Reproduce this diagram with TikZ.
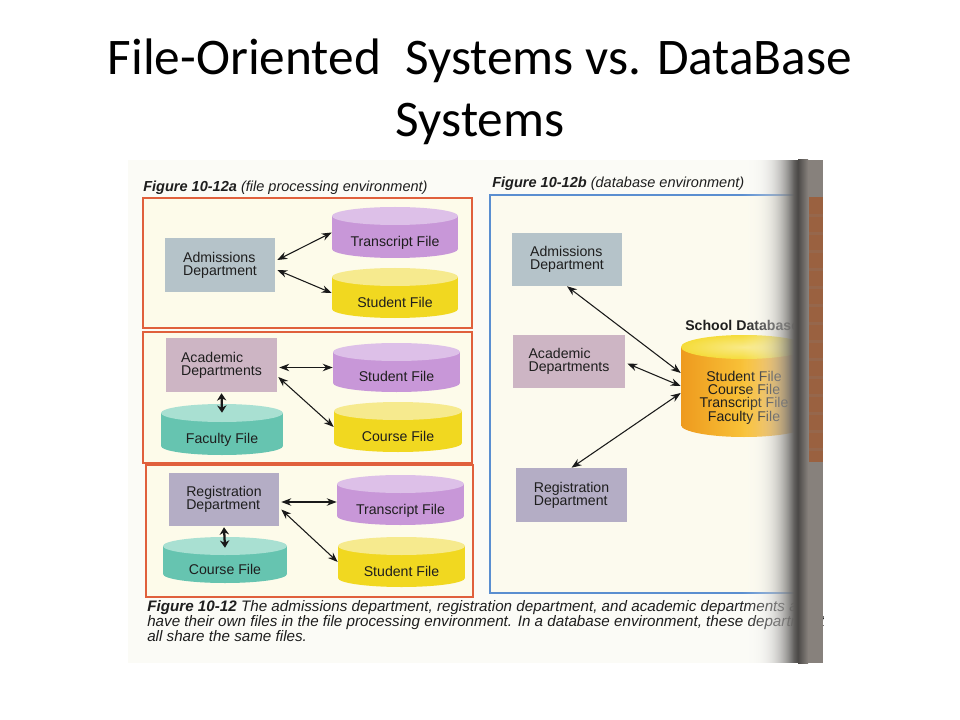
\documentclass[tikz,border=0pt]{standalone}
\usepackage{fontspec}
\setmainfont{Liberation Sans}
\newfontfamily\titlefont{Carlito}
\usetikzlibrary{arrows.meta,calc}
\definecolor{panelred}{HTML}{E0603C}
\definecolor{panelfill}{HTML}{FDFBEA}
\definecolor{rblue}{HTML}{5A8ED0}
\definecolor{rfill}{HTML}{FCFAEE}
\definecolor{photobg}{HTML}{FBFBF6}
\definecolor{admc}{HTML}{B5C3C9}
\definecolor{acac}{HTML}{CDB5C4}
\definecolor{regc}{HTML}{B4ADC5}
\definecolor{purb}{HTML}{C897D8}
\definecolor{purt}{HTML}{DDC0E8}
\definecolor{yelb}{HTML}{F1D820}
\definecolor{yelt}{HTML}{F6EA8E}
\definecolor{teab}{HTML}{66C4B0}
\definecolor{teat}{HTML}{A9E0D2}
\definecolor{dbedge}{HTML}{EE9A1E}
\definecolor{dbmid}{HTML}{F8C238}
\definecolor{dbtop}{HTML}{F5DC3A}
\definecolor{gutc}{HTML}{4C4A48}
\definecolor{pageR}{HTML}{87817C}
\definecolor{pageO}{HTML}{9E5C36}
\definecolor{textc}{HTML}{1E1E1E}
\newcommand{\deptfont}{\fontsize{10.6pt}{9.9pt}\selectfont}
\newcommand{\capfont}{\fontsize{10.9pt}{13pt}\selectfont\itshape}
\newcommand{\botfont}{\fontsize{11.4pt}{13pt}\selectfont\itshape}
\begin{document}
\begin{tikzpicture}[x=0.75pt,y=-0.75pt,
  panelL/.style={draw=panelred, line width=1.2pt, fill=panelfill, rectangle, inner sep=0pt,
     minimum width=#1*0.75pt},
  phgt/.style={minimum height=#1*0.75pt},
  dept/.style n args={3}{rectangle, inner sep=0pt, fill=#3, align=left, font=\deptfont, text=textc,
     minimum width=#1*0.75pt, minimum height=#2*0.75pt},
  cyl/.style n args={4}{rectangle, inner sep=0pt, font=\deptfont, text=textc,
     minimum width=#1*0.75pt, minimum height=#2*0.75pt, text height=23pt, text depth=2pt,
     path picture={
       \fill[#3] ($(path picture bounding box.north west)+(0,9)$) rectangle ($(path picture bounding box.south east)+(0,-9)$);
       \fill[#3] ($(path picture bounding box.south)+(0,-9)$) ellipse [x radius=#1/2, y radius=9];
       \fill[#4] ($(path picture bounding box.north)+(0,9)$) ellipse [x radius=#1/2, y radius=9];
     }},
  arr/.style={{Stealth[length=7.5pt,width=5.6pt]}-{Stealth[length=7.5pt,width=5.6pt]}, line width=0.8pt, black!90},
  tarr/.style={{Stealth[length=5.5pt,width=7pt]}-{Stealth[length=5.5pt,width=7pt]}, line width=1.7pt, black!90},
]
\useasboundingbox (0,0) rectangle (960,720);
\fill[white] (0,0) rectangle (960,720);

% title
\node[anchor=base, inner sep=0pt, font=\titlefont\fontsize{38.5pt}{46pt}\selectfont] (t1) at (480,75) {File-Oriented\hspace{0.25em} Systems vs. DataBase};
\node[anchor=base, inner sep=0pt, font=\titlefont\fontsize{38.5pt}{46pt}\selectfont] (t2) at (480,137) {Systems};

\begin{scope}
\clip (128,160) rectangle (823,663);
\fill[photobg] (128,160) rectangle (823,663);

% left captions and panels
\node[anchor=base west, inner sep=0pt, font=\capfont, text=textc] (capA) at (143,192) {{\bfseries Figure 10-12a} (file processing environment)};
\node[panelL=329, phgt=130] (p1) at (307.5,263) {};
\node[panelL=329, phgt=131] (p2) at (307.5,397.5) {};
\node[panelL=327, phgt=132] (p3) at (309.5,531) {};

% panel 1
\node[dept={110}{54}{admc}] (adm1) at (220,265) {Admissions\\Department};
\node[cyl={126}{51}{purb}{purt}] (tr1) at (395,232.5) {Transcript File};
\node[cyl={126}{50}{yelb}{yelt}] (st1) at (395,293) {Student File};
\draw[arr] ($(adm1.east)+(2,-5)$) -- (tr1.west);
\draw[arr] ($(adm1.east)+(2,5)$) -- (st1.west);

% panel 2
\node[dept={111}{54}{acac}] (aca2) at (221.5,365) {Academic\\Departments};
\node[cyl={127}{49}{purb}{purt}] (st2) at (396.5,367.5) {Student File};
\node[cyl={128}{50}{yelb}{yelt}] (co2) at (398,427) {Course File};
\node[cyl={122}{51}{teab}{teat}] (fa2) at (222,429.5) {Faculty File};
\draw[arr] ($(aca2.east |- st2.west)+(2,0)$) -- (st2.west);
\draw[arr] ($(aca2.east)+(1,12)$) -- (co2.west);
\coordinate (fa2in) at ($(fa2.north)+(0,9)$);
\draw[tarr] ($(aca2.south)+(0,1)$) -- (fa2in);

% panel 3
\node[dept={110}{53}{regc}] (reg3) at (224,499.5) {Registration\\Department};
\node[cyl={127}{50}{purb}{purt}] (tr3) at (400.5,500) {Transcript File};
\node[cyl={127}{50}{yelb}{yelt}] (st3) at (401.5,562) {Student File};
\node[cyl={124}{46}{teab}{teat}] (co3) at (225,560) {Course File};
\draw[arr] ($(reg3.east |- tr3.west)+(2,2)$) -- ($(tr3.west)+(0,2)$);
\draw[arr] ($(reg3.east)+(2,10)$) -- (st3.west);
\coordinate (co3in) at ($(co3.north)+(0,11)$);
\draw[tarr] ($(reg3.south)+(0,1)$) -- (co3in);

% right panel
\node[anchor=base west, inner sep=0pt, font=\capfont, text=textc] (capB) at (492,188) {{\bfseries Figure 10-12b} (database environment)};
\node[rectangle, draw=rblue, line width=1.1pt, fill=rfill, minimum width=310*0.75pt, minimum height=398*0.75pt] (rbox) at (645,394) {};
\node[dept={110}{53}{admc}] (admR) at (567,259.5) {Admissions\\Department};
\node[dept={112}{53}{acac}] (acaR) at (569,361.5) {Academic\\Departments};
\node[dept={111}{54}{regc}] (regR) at (571.5,495) {Registration\\Department};
\node[anchor=west, inner sep=0pt, font=\deptfont\bfseries, text=textc] (dblab) at (685,325) {School Database};
\node[rectangle, inner sep=0pt, minimum width=126*0.75pt, minimum height=102*0.75pt,
  path picture={
    \shade[left color=dbedge, right color=dbedge, middle color=dbmid] ($(path picture bounding box.north west)+(0,12)$) rectangle ($(path picture bounding box.south east)+(0,-12)$);
    \shade[left color=dbedge, right color=dbedge, middle color=dbmid] ($(path picture bounding box.south)+(0,-12)$) ellipse [x radius=63, y radius=12];
    \shade[inner color=dbtop!60!white, outer color=dbtop] ($(path picture bounding box.north)+(0,12)$) ellipse [x radius=63, y radius=12];
  }] (db) at (744,386) {};
\node[align=center, inner sep=0pt, font=\fontsize{10.6pt}{9.5pt}\selectfont, text=textc] (dbtxt) at (744,398) {Student File\\Course File\\Transcript File\\Faculty File};
\coordinate (dbin1) at ($(db.west)+(0,-13)$);
\coordinate (dbin3) at ($(db.west)+(0,7)$);
\draw[arr] (admR.south) -- (dbin1);
\draw[arr] ($(acaR.east)+(2,2)$) -- (db.west);
\draw[arr] (regR.north) -- (dbin3);

% bottom caption
\node[anchor=base west, inner sep=0pt, font=\botfont, text=textc] (cap1) at (147,611) {{\bfseries Figure 10-12} The admissions department, registration department, and academic departments all};
\node[anchor=base west, inner sep=0pt, font=\botfont, text=textc] (cap2) at (147,626) {have their own files in the file processing environment. In a database environment, these departments};
\node[anchor=base west, inner sep=0pt, font=\botfont, text=textc] (cap3) at (147,641) {all share the same files.};

% book gutter (out-of-focus page fold)
\foreach \i in {0,...,57} {
  \pgfmathsetmacro\tt{(\i+0.5)/58}
  \pgfmathsetmacro\op{min(1,1.1*(\tt)^1.4)}
  \pgfmathsetmacro\mix{100*(\tt)^2}
  \fill[gutc!\mix!white, opacity=\op] (740+\i,160) rectangle (741.2+\i,663);
}
\shade[left color=gutc, right color=pageR] (798,160) rectangle (808,663);
\fill[pageR] (808,160) rectangle (823,663);
\fill[pageO, opacity=0.85] (809,197) rectangle (823,462);
\foreach \y in {214,232,250,268,286,304,322,340,358,376,394,412,430,448} {
  \fill[pageR!50!pageO, opacity=0.5] (809,\y) rectangle (823,\y+3);
}
\end{scope}
\end{tikzpicture}
\end{document}
